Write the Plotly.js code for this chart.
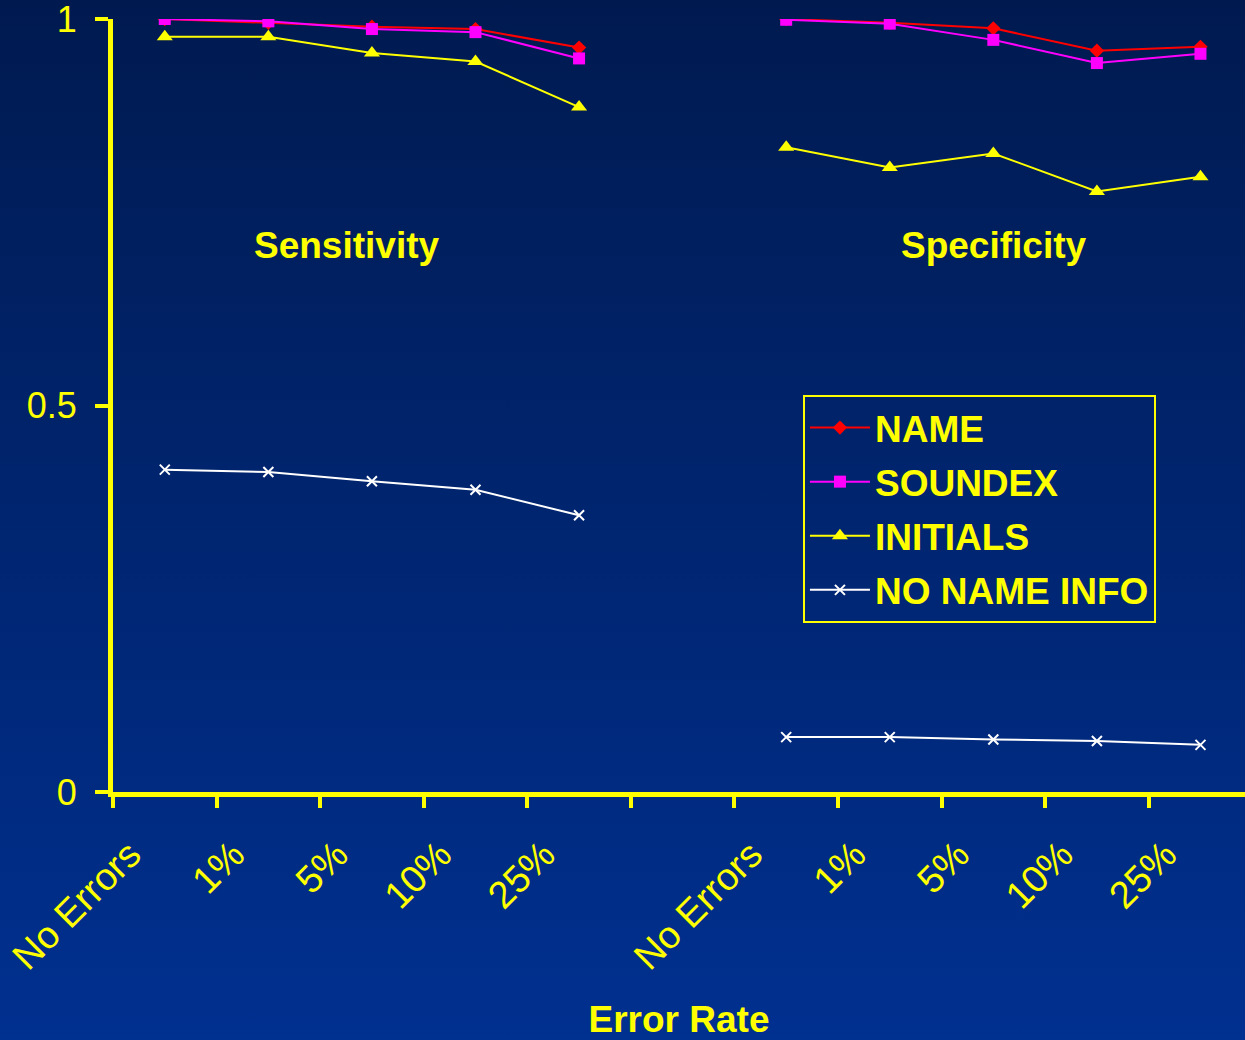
<!DOCTYPE html>
<html><head><meta charset="utf-8">
<script src="https://cdn.plot.ly/plotly-3.0.1.min.js"></script>
<style>
html,body{margin:0;padding:0;width:1245px;height:1040px;overflow:hidden;background:linear-gradient(to bottom,#001a50 0%,#003090 100%);}
#chart{width:1245px;height:1040px;}
</style></head><body><div id="chart"></div>
<script>
const errorRates = ["No Errors", "1%", "5%", "10%", "25%"];
const seriesNames = ["NAME", "SOUNDEX", "INITIALS", "NO NAME INFO"];
const panelTitles = ["Sensitivity", "Specificity"];
const nameSens = [1.0, 0.995, 0.990, 0.987, 0.963];
const nameSpec = [1.0, 0.995, 0.988, 0.959, 0.964];
const soundexSens = [1.0, 0.997, 0.987, 0.983, 0.949];
const soundexSpec = [0.999, 0.994, 0.973, 0.943, 0.955];
const initialsSens = [0.977, 0.977, 0.956, 0.945, 0.886];
const initialsSpec = [0.834, 0.808, 0.826, 0.777, 0.796];
const noNameSens = [0.417, 0.414, 0.402, 0.391, 0.358];
const noNameSpec = [0.071, 0.071, 0.068, 0.066, 0.061];
const yTickVals = [0, 0.5, 1];
const yTickText = ["0", "0.5", "1"];
const axisTitle = "Error Rate";

// positions: five slots, one empty slot, five slots
const n = errorRates.length;
const xPos = [];
for (let i = 0; i < n; i++) xPos.push(i + 0.5);
xPos.push(n + 0.5);
for (let i = 0; i < n; i++) xPos.push(n + 1 + i + 0.5);
const labelVals = xPos.slice(0, n).concat(xPos.slice(n + 1));
const labelText = errorRates.concat(errorRates);
const boundaries = [];
for (let i = 0; i <= 2 * n + 1; i++) boundaries.push(i);

function join(a, b) { return a.concat([null]).concat(b); }

const styles = [
  {color: '#ff0000', symbol: 'diamond', size: 11},
  {color: '#ff00ff', symbol: 'square', size: 12},
  {color: '#ffff00', symbol: 'triangle-up', size: 14},
  {color: '#ffffff', symbol: 'x-thin', size: 10}
];
const ys = [join(nameSens, nameSpec), join(soundexSens, soundexSpec),
            join(initialsSens, initialsSpec), join(noNameSens, noNameSpec)];

const traces = seriesNames.map((nm, k) => ({
  type: 'scatter', mode: 'lines+markers', name: nm, legendgroup: nm,
  x: xPos, y: ys[k], connectgaps: false,
  line: {color: styles[k].color, width: 2},
  marker: {symbol: styles[k].symbol, size: styles[k].size, color: styles[k].color,
           line: {color: styles[k].color, width: styles[k].symbol === 'x-thin' ? 2 : 0}}
}));

const yellow = '#ffff00';
const FONT = '"Liberation Sans", Arial, Helvetica, sans-serif';
const layout = {
  width: 1245, height: 1040,
  paper_bgcolor: 'rgba(0,0,0,0)', plot_bgcolor: 'rgba(0,0,0,0)',
  margin: {l: 113, r: 0, t: 19, b: 248, pad: 0},
  font: {family: FONT, color: yellow},
  showlegend: true,
  xaxis: {
    range: [0, 10.93], tickmode: 'array', tickvals: labelVals, ticktext: labelText,
    tickangle: -45, ticks: '', showgrid: false, zeroline: false,
    showline: true, linecolor: yellow, linewidth: 5,
    tickfont: {family: FONT, size: 38, color: yellow},
    ticklabelshift: -35, ticklabelstandoff: 20, ticklabeloverflow: 'allow',
    minor: {tickmode: 'array', tickvals: boundaries, ticks: 'outside', ticklen: 11,
            tickwidth: 4, tickcolor: yellow, showgrid: false},
    title: {text: axisTitle, font: {family: FONT, size: 37, weight: 'bold', color: yellow}, standoff: 36},
    fixedrange: true
  },
  yaxis: {
    range: [0, 1], tickmode: 'array', tickvals: yTickVals, ticktext: yTickText,
    ticks: 'outside', ticklen: 13, tickwidth: 4, tickcolor: yellow,
    showline: true, linecolor: yellow, linewidth: 5, showgrid: false, zeroline: false,
    tickfont: {family: FONT, size: 36, color: yellow}, ticklabelstandoff: 11,
    ticklabeloverflow: 'allow',
    fixedrange: true
  },
  legend: {
    x: 0.6095, y: 0.5136, xanchor: 'left', yanchor: 'top',
    bgcolor: 'rgba(0,0,0,0)', bordercolor: yellow, borderwidth: 2,
    font: {family: FONT, size: 37, weight: 'bold', color: yellow},
    itemwidth: 60, traceorder: 'grouped', tracegroupgap: 3
  },
  annotations: [
    {xref: 'x', yref: 'y', x: 2.25, y: 0.7076, text: panelTitles[0], showarrow: false,
     xanchor: 'center', yanchor: 'middle', font: {family: FONT, size: 37, weight: 'bold', color: yellow}},
    {xref: 'x', yref: 'y', x: 8.5, y: 0.7076, text: panelTitles[1], showarrow: false,
     xanchor: 'center', yanchor: 'middle', font: {family: FONT, size: 37, weight: 'bold', color: yellow}}
  ]
};
Plotly.newPlot('chart', traces, layout, {displayModeBar: false, staticPlot: true});
</script></body></html>
